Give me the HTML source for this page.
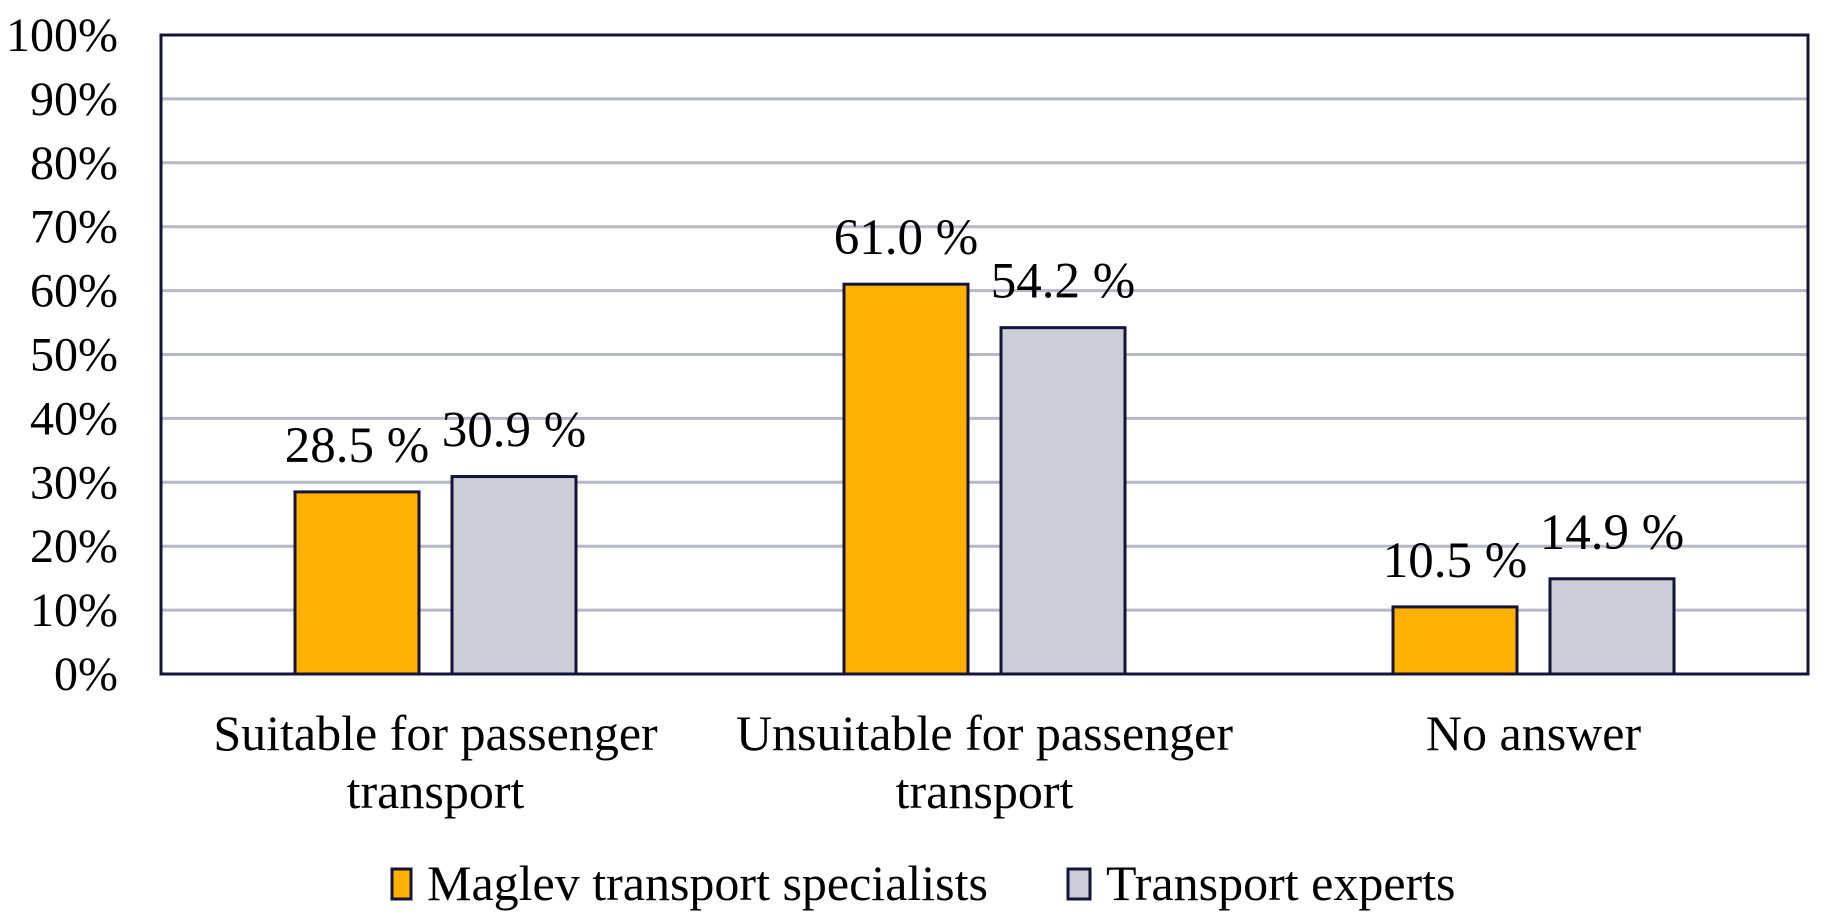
<!DOCTYPE html>
<html><head><meta charset="utf-8"><style>
body{margin:0;background:#fff;}
svg{display:block;font-family:"Liberation Serif",serif;}
</style></head><body>
<svg id="chart" width="1821" height="921">
<g id="grid"></g><g id="bars"></g><g id="labels"></g>
<rect x="161" y="35" width="1647" height="639" fill="none" stroke="#14143a" stroke-width="3"/>
<g>
<rect x="392" y="869" width="19" height="30" fill="#ffb000" stroke="#14143a" stroke-width="3"/>
<text x="427" y="900" font-size="50">Maglev transport specialists</text>
<rect x="1068" y="869" width="22" height="30" fill="#cdcdd8" stroke="#14143a" stroke-width="3"/>
<text x="1106" y="900" font-size="50">Transport experts</text>
</g>
</svg>
<script>
const categories=[["Suitable for passenger","transport"],["Unsuitable for passenger","transport"],["No answer"]];
const maglev=[28.5,61.0,10.5];
const experts=[30.9,54.2,14.9];
const ticks=[0,10,20,30,40,50,60,70,80,90,100];
const NS="http://www.w3.org/2000/svg";
const L=161,R=1808,T=35,B=674;
const y=v=>B-(v/100)*(B-T);
const band=(R-L)/categories.length;
const g=document.getElementById('grid'),bg=document.getElementById('bars'),lg=document.getElementById('labels');
function mk(tag,attrs,parent,txt){const e=document.createElementNS(NS,tag);for(const k in attrs)e.setAttribute(k,attrs[k]);if(txt!==undefined)e.textContent=txt;parent.appendChild(e);return e;}
ticks.forEach(t=>{
  if(t>0&&t<100){const l=mk('line',{x1:L,x2:R,y1:y(t),y2:y(t),stroke:'#b8b8c4','stroke-width':3},g);
  
  }
  const tx=mk('text',{x:118,y:y(t)+16,'font-size':48,'text-anchor':'end'},lg,t+'%');
  
  
});
const bw=124,gap=33;
categories.forEach((c,i)=>{
  const cx=L+band*(i+0.5);
  [[maglev[i],'#ffb000',cx-gap/2-bw,'maglev'],[experts[i],'#cdcdd8',cx+gap/2,'experts']].forEach(([v,col,x,s])=>{
    const r=mk('rect',{x:x,y:y(v),width:bw,height:B-y(v),fill:col,stroke:'#14143a','stroke-width':3},bg);
    
    
    const t=mk('text',{x:x+bw/2,y:y(v)-30,'font-size':51,'text-anchor':'middle'},lg,v.toFixed(1)+' %');
    
    
  });
  c.forEach((line,j)=>{
    const t=mk('text',{x:cx,y:750+j*58,'font-size':50,'text-anchor':'middle'},lg,line);
    
    
  });
});
</script>
</body></html>
